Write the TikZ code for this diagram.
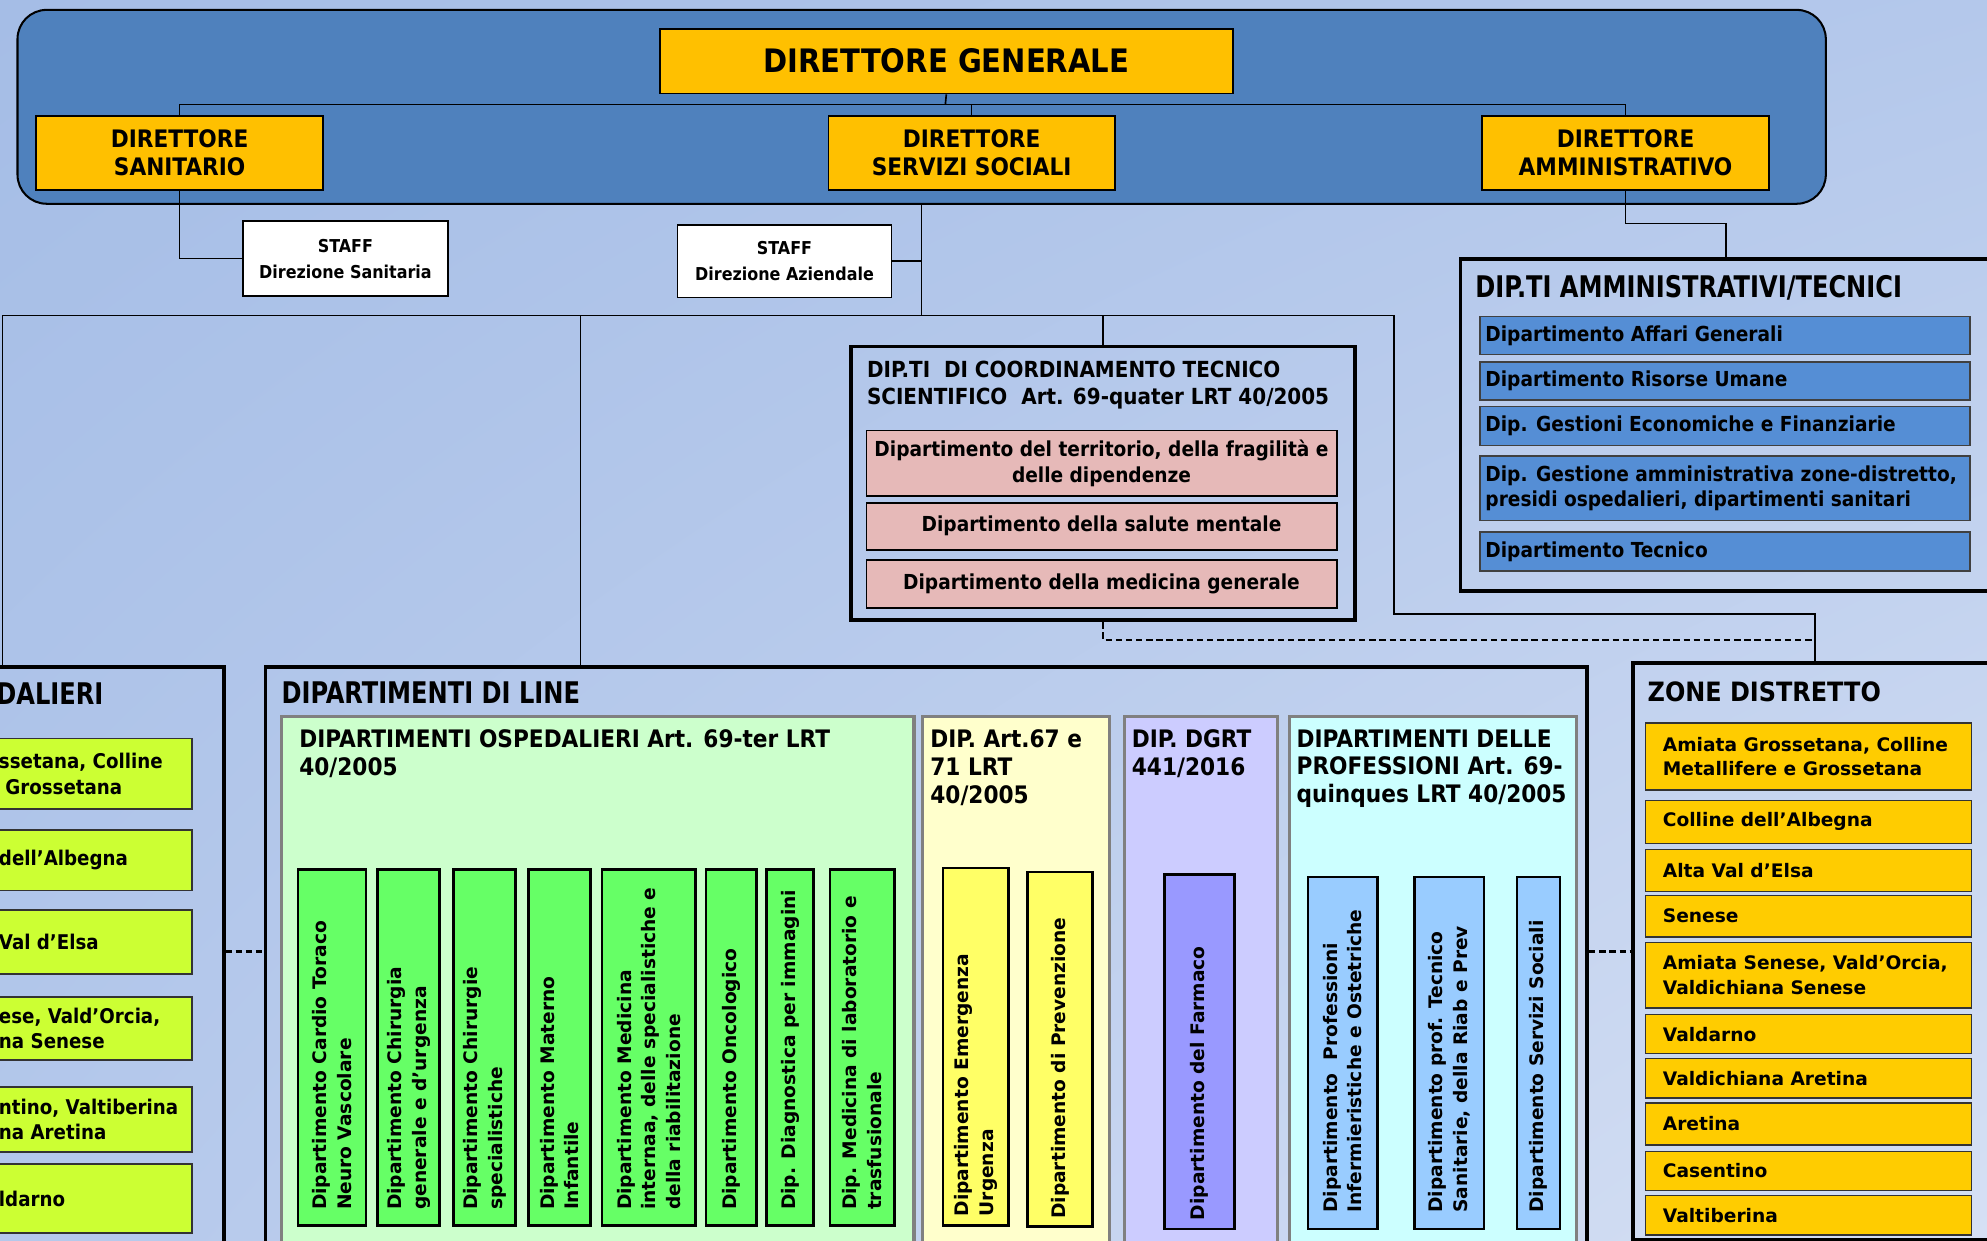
\documentclass[tikz,border=0pt]{standalone}
\usepackage{fontspec}
\usetikzlibrary{shadings}
\newfontfamily\cond{DejaVu Sans Condensed}
\newfontfamily\tall[FakeStretch=0.9]{DejaVu Sans Condensed}
\newfontfamily\verd{DejaVu Sans}
\newcommand\fsz[2]{\fontsize{#1}{#2}\selectfont}

\definecolor{bgA}{RGB}{165,189,230}
\definecolor{bgB}{RGB}{180,200,235}
\definecolor{bgC}{RGB}{214,224,244}
\definecolor{topblue}{RGB}{79,129,189}
\definecolor{gold}{RGB}{255,192,0}
\definecolor{zonegold}{RGB}{255,204,0}
\definecolor{ammblue}{RGB}{85,142,213}
\definecolor{pinkbg}{RGB}{230,185,184}
\definecolor{limebg}{RGB}{204,255,51}
\definecolor{ospbg}{RGB}{204,255,204}
\definecolor{ospbox}{RGB}{102,255,102}
\definecolor{emebg}{RGB}{255,255,204}
\definecolor{emebox}{RGB}{255,255,102}
\definecolor{farbg}{RGB}{204,204,255}
\definecolor{farbox}{RGB}{153,153,255}
\definecolor{profbg}{RGB}{204,255,255}
\definecolor{profbox}{RGB}{153,204,255}
\definecolor{pnlgray}{RGB}{128,128,128}

\tikzset{
  bx/.style={draw=black, line width=1.5pt, inner sep=0pt, anchor=north west},
  dirbox/.style={bx, fill=gold, align=center, font=\cond\bfseries\fsz{19}{22}},
  staffbox/.style={bx, line width=1.2pt, fill=white, align=center, font=\cond\bfseries\fsz{14}{20.5}},
  frm/.style={draw=black, line width=3pt, inner sep=0pt, anchor=north west},
  pnl/.style={draw=pnlgray, line width=2.5pt, inner sep=0pt, anchor=north west},
  pinkitem/.style={bx, fill=pinkbg, align=center, font=\cond\bfseries\fsz{16.3}{20}},
  ammitem/.style={bx, draw=black!75, line width=1.3pt, fill=ammblue},
  zoneitem/.style={bx, draw=black!80, line width=1pt, fill=zonegold},
  limeitem/.style={bx, draw=black!80, line width=1.5pt, fill=limebg},
  vbox/.style={bx, line width=2pt},
  ttl/.style={inner sep=0pt, anchor=north west, align=left, font=\tall\bfseries\fsz{23.5}{26}},
  hdr/.style={inner sep=0pt, anchor=north west, align=left, font=\cond\bfseries\fsz{19}{22}},
  itemtxt/.style={inner sep=0pt, anchor=west, align=left, font=\cond\bfseries\fsz{16.3}{20}},
  ztxt/.style={inner sep=0pt, anchor=west, align=left, font=\verd\bfseries\fsz{14.7}{19.5}},
  vtxt/.style={inner sep=0pt, rotate=90, anchor=west, align=left, font=\verd\bfseries\fsz{14.7}{19.5}},
  wire/.style={draw=black, line width=1.3pt},
  dashwire/.style={draw=black, line width=2pt, dash pattern=on 5pt off 3pt},
}

\begin{document}
\begin{tikzpicture}[x=1pt, y=-1pt]
  \useasboundingbox (0,0) rectangle (1568,979);
  \clip (0,0) rectangle (1568,979);
  \shade[upper left=bgA, upper right=bgB, lower left=bgB, lower right=bgC] (0,0) rectangle (1568,979);

  % direzione
  \node[bx, fill=topblue, line width=1.6pt, rounded corners=23pt, minimum width=1427, minimum height=153] (dir) at (13,7) {};
  \node[dirbox, minimum width=452, minimum height=51, font=\cond\bfseries\fsz{25.5}{28}] (dg) at (520,22) {DIRETTORE GENERALE};
  \node[dirbox, minimum width=226, minimum height=58] (ds) at (28,91) {DIRETTORE\\SANITARIO};
  \node[dirbox, minimum width=226, minimum height=58] (dss) at (653,91) {DIRETTORE\\SERVIZI SOCIALI};
  \node[dirbox, minimum width=226, minimum height=58] (da) at (1169,91) {DIRETTORE\\AMMINISTRATIVO};

  \node[staffbox, minimum width=162, minimum height=59] (staffS) at (191,174) {STAFF\\Direzione Sanitaria};
  \node[staffbox, minimum width=169, minimum height=57] (staffA) at (534,177) {STAFF\\Direzione Aziendale};

  % dipartimenti amministrativi/tecnici
  \node[frm, minimum width=500, minimum height=262] (amm) at (1151,203) {};
  \node[ttl] (ammT) at (1164,217.5) {DIP.TI AMMINISTRATIVI/TECNICI};
  \foreach \y/\h/\txt [count=\i] in {
    249/30/{Dipartimento Affari Generali},
    285/30/{Dipartimento Risorse Umane},
    320/31/{Dip. Gestioni Economiche e Finanziarie},
    359/51/{Dip. Gestione amministrativa zone-distretto,\\presidi ospedalieri, dipartimenti sanitari},
    419/31/{Dipartimento Tecnico}%
  }{
    \node[ammitem, minimum width=387, minimum height=\h] (a\i) at (1167,\y) {};
    \node[itemtxt] (at\i) at ([xshift=5pt]a\i.west) {\txt};
  }

  % coordinamento tecnico scientifico
  \node[frm, minimum width=398, minimum height=216] (coord) at (670,272) {};
  \node[hdr, font=\cond\bfseries\fsz{17.5}{21}] (coordT) at (684,285) {DIP.TI\ \ DI COORDINAMENTO TECNICO\\SCIENTIFICO\ \ Art. 69-quater LRT 40/2005};
  \node[pinkitem, minimum width=371, minimum height=52] (c1) at (683,339) {Dipartimento del territorio, della fragilità e\\delle dipendenze};
  \node[pinkitem, minimum width=371, minimum height=37] (c2) at (683,396) {Dipartimento della salute mentale};
  \node[pinkitem, minimum width=371, minimum height=38] (c3) at (683,441) {Dipartimento della medicina generale};

  % presidi (tagliato a sinistra)
  \node[frm, minimum width=195, minimum height=480] (pres) at (-20,525) {};
  \node[ttl] (presT) at (-3,538.5) {DALIERI};
  \foreach \y/\h/\txt [count=\i] in {
    582/56/{ssetana, Colline\\\hspace*{5pt}Grossetana},
    654/48/{dell’Albegna},
    717/51/{Val d’Elsa},
    786/50/{ese, Vald’Orcia,\\na Senese},
    857/51/{ntino, Valtiberina\\na Aretina},
    918/54/{ldarno}%
  }{
    \node[limeitem, minimum width=181, minimum height=\h] (l\i) at (-30,\y) {};
    \node[itemtxt, font=\cond\bfseries\fsz{16}{20}] (lt\i) at ([xshift=29pt]l\i.west) {\txt};
  }

  % dipartimenti di line
  \node[frm, minimum width=1043, minimum height=480] (lin) at (208,525) {};
  \node[ttl] (linT) at (222,537.5) {DIPARTIMENTI DI LINE};

  \node[pnl, fill=ospbg, minimum width=499, minimum height=440] (osp) at (221,564) {};
  \node[hdr] (ospT) at (236,575.5) {DIPARTIMENTI OSPEDALIERI Art. 69-ter LRT\\40/2005};
  \foreach \x/\w/\txt [count=\i] in {
    234/54/{Dipartimento Cardio Toraco\\Neuro Vascolare},
    297/49/{Dipartimento Chirurgia\\generale e d’urgenza},
    357/49/{Dipartimento Chirurgie\\specialistiche},
    416/49/{Dipartimento Materno\\Infantile},
    474/74/{Dipartimento Medicina\\internaa, delle specialistiche e\\della riabilitazione},
    556/40/{Dipartimento Oncologico},
    604/37/{Dip. Diagnostica per immagini},
    654/51/{Dip. Medicina di laboratorio e\\trasfusionale}%
  }{
    \node[vbox, fill=ospbox, minimum width=\w, minimum height=281] (o\i) at (\x,685) {};
    \node[vtxt] (ot\i) at ([yshift=13pt]o\i.south) {\txt};
  }

  \node[pnl, fill=emebg, minimum width=147, minimum height=440] (eme) at (727,564) {};
  \node[hdr] (emeT) at (734,575.5) {DIP. Art.67 e\\71 LRT\\40/2005};
  \node[vbox, fill=emebox, minimum width=52, minimum height=282] (e1) at (743,684) {};
  \node[vtxt] (et1) at ([yshift=8pt]e1.south) {Dipartimento Emergenza\\Urgenza};
  \node[vbox, fill=emebox, minimum width=51, minimum height=280] (e2) at (810,687) {};
  \node[vtxt] (et2) at ([yshift=7pt]e2.south) {Dipartimento di Prevenzione};

  \node[pnl, fill=farbg, minimum width=121, minimum height=440] (far) at (886,564) {};
  \node[hdr] (farT) at (893,575.5) {DIP. DGRT\\441/2016};
  \node[vbox, fill=farbox, minimum width=55, minimum height=280] (f1) at (918,689) {};
  \node[vtxt] (ft1) at ([yshift=8pt]f1.south) {Dipartimento del Farmaco};

  \node[pnl, fill=profbg, minimum width=227, minimum height=440] (prof) at (1016,564) {};
  \node[hdr] (profT) at (1023,575.5) {DIPARTIMENTI DELLE\\PROFESSIONI Art. 69-\\quinques LRT 40/2005};
  \foreach \x/\w/\txt [count=\i] in {
    1031/55/{Dipartimento\ \ Professioni\\Infermieristiche e Ostetriche},
    1115/55/{Dipartimento prof. Tecnico\\Sanitarie, della Riab e Prev},
    1196/34/{Dipartimento Servizi Sociali}%
  }{
    \node[vbox, fill=profbox, minimum width=\w, minimum height=278] (p\i) at (\x,691) {};
    \node[vtxt] (pt\i) at ([yshift=14pt]p\i.south) {\txt};
  }

  % zone distretto
  \node[frm, minimum width=353, minimum height=455] (zone) at (1287,522) {};
  \node[hdr, font=\cond\bfseries\fsz{21}{24}] (zoneT) at (1300,537.5) {ZONE DISTRETTO};
  \foreach \y/\h/\txt [count=\i] in {
    570/53/{Amiata Grossetana, Colline\\Metallifere e Grossetana},
    631/34/{Colline dell’Albegna},
    670/33/{Alta Val d’Elsa},
    706/33/{Senese},
    743/52/{Amiata Senese, Vald’Orcia,\\Valdichiana Senese},
    800/31/{Valdarno},
    835/31/{Valdichiana Aretina},
    870/33/{Aretina},
    908/31/{Casentino},
    943/31/{Valtiberina}%
  }{
    \node[zoneitem, minimum width=257, minimum height=\h] (z\i) at (1298,\y) {};
    \node[ztxt] (zt\i) at ([xshift=14pt]z\i.west) {\txt};
  }

  % collegamenti
  \coordinate (bus) at (746,82.5);
  \coordinate (jL) at (2,249);
  \coordinate (jM) at (458,249);
  \coordinate (jR) at (1100,249);
  \coordinate (zc) at (1432,484.5);
  \coordinate (dz) at (1432,505);
  \coordinate (ak) at (1362,176.5);
  \coordinate (mid) at (0,751);

  \draw[wire] (ds.north) |- (bus) -| (da.north);
  \draw[wire] (dg.south) -- (bus);
  \draw[wire] (dss.north) -- (dss.north |- bus);
  \draw[wire] (ds.south) |- (staffS.west);
  \draw[wire] (dir.south) -- (dir.south |- jL);
  \draw[wire] (staffA.east) -- (staffA.east -| dir.south);
  \draw[wire] (jL |- pres.north) -- (jL) -- (jR) |- (zc) -- (zc |- zone.north);
  \draw[wire] (jM) -- (jM |- lin.north);
  \draw[wire] (coord.north) -- (coord.north |- jL);
  \draw[wire] (da.south) |- (ak) -- (ak |- amm.north);
  \draw[dashwire] (coord.south) |- (dz);
  \draw[dashwire] (pres.east |- mid) -- (lin.west |- mid);
  \draw[dashwire] (lin.east |- mid) -- (zone.west |- mid);
\end{tikzpicture}
\end{document}
